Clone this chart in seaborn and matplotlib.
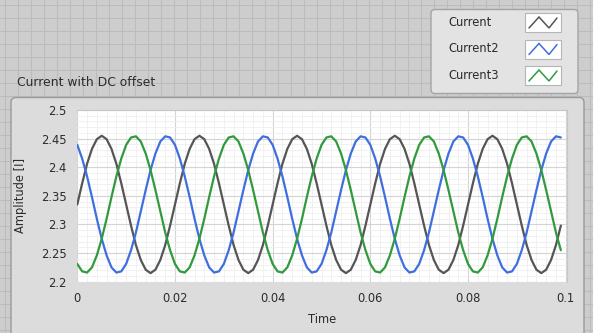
import numpy as np
import pandas as pd
import matplotlib
matplotlib.use("Agg")
import matplotlib.pyplot as plt
import seaborn as sns
from matplotlib.patches import FancyBboxPatch, Rectangle

# ---------------- data ----------------
series_names = ["Current", "Current2", "Current3"]
series_colors = ["#555555", "#3f6fdf", "#309a3c"]

sample_dt = 0.001
time_s = np.round(np.arange(100) * sample_dt, 3)

current = [
    2.335, 2.372, 2.406, 2.432, 2.449, 2.455, 2.449, 2.432, 2.406, 2.372,
    2.335, 2.298, 2.264, 2.238, 2.221, 2.215, 2.221, 2.238, 2.264, 2.298,
    2.335, 2.372, 2.406, 2.432, 2.449, 2.455, 2.449, 2.432, 2.406, 2.372,
    2.335, 2.298, 2.264, 2.238, 2.221, 2.215, 2.221, 2.238, 2.264, 2.298,
    2.335, 2.372, 2.406, 2.432, 2.449, 2.455, 2.449, 2.432, 2.406, 2.372,
    2.335, 2.298, 2.264, 2.238, 2.221, 2.215, 2.221, 2.238, 2.264, 2.298,
    2.335, 2.372, 2.406, 2.432, 2.449, 2.455, 2.449, 2.432, 2.406, 2.372,
    2.335, 2.298, 2.264, 2.238, 2.221, 2.215, 2.221, 2.238, 2.264, 2.298,
    2.335, 2.372, 2.406, 2.432, 2.449, 2.455, 2.449, 2.432, 2.406, 2.372,
    2.335, 2.298, 2.264, 2.238, 2.221, 2.215, 2.221, 2.238, 2.264, 2.298,
]
current2 = [
    2.439, 2.415, 2.384, 2.348, 2.310, 2.275, 2.246, 2.225, 2.216, 2.218,
    2.231, 2.255, 2.286, 2.323, 2.360, 2.395, 2.424, 2.445, 2.454, 2.452,
    2.439, 2.415, 2.384, 2.348, 2.310, 2.275, 2.246, 2.225, 2.216, 2.218,
    2.231, 2.255, 2.286, 2.323, 2.360, 2.395, 2.424, 2.445, 2.454, 2.452,
    2.439, 2.415, 2.384, 2.348, 2.310, 2.275, 2.246, 2.225, 2.216, 2.218,
    2.231, 2.255, 2.286, 2.323, 2.360, 2.395, 2.424, 2.445, 2.454, 2.452,
    2.439, 2.415, 2.384, 2.348, 2.310, 2.275, 2.246, 2.225, 2.216, 2.218,
    2.231, 2.255, 2.286, 2.323, 2.360, 2.395, 2.424, 2.445, 2.454, 2.452,
    2.439, 2.415, 2.384, 2.348, 2.310, 2.275, 2.246, 2.225, 2.216, 2.218,
    2.231, 2.255, 2.286, 2.323, 2.360, 2.395, 2.424, 2.445, 2.454, 2.452,
]
current3 = [
    2.231, 2.218, 2.216, 2.225, 2.246, 2.275, 2.310, 2.348, 2.384, 2.415,
    2.439, 2.452, 2.454, 2.445, 2.424, 2.395, 2.360, 2.323, 2.286, 2.255,
    2.231, 2.218, 2.216, 2.225, 2.246, 2.275, 2.310, 2.348, 2.384, 2.415,
    2.439, 2.452, 2.454, 2.445, 2.424, 2.395, 2.360, 2.323, 2.286, 2.255,
    2.231, 2.218, 2.216, 2.225, 2.246, 2.275, 2.310, 2.348, 2.384, 2.415,
    2.439, 2.452, 2.454, 2.445, 2.424, 2.395, 2.360, 2.323, 2.286, 2.255,
    2.231, 2.218, 2.216, 2.225, 2.246, 2.275, 2.310, 2.348, 2.384, 2.415,
    2.439, 2.452, 2.454, 2.445, 2.424, 2.395, 2.360, 2.323, 2.286, 2.255,
    2.231, 2.218, 2.216, 2.225, 2.246, 2.275, 2.310, 2.348, 2.384, 2.415,
    2.439, 2.452, 2.454, 2.445, 2.424, 2.395, 2.360, 2.323, 2.286, 2.255,
]

x_ticks = [0, 0.02, 0.04, 0.06, 0.08, 0.1]
x_tick_labels = ["0", "0.02", "0.04", "0.06", "0.08", "0.1"]
y_ticks = [2.2, 2.25, 2.3, 2.35, 2.4, 2.45, 2.5]
y_tick_labels = ["2.2", "2.25", "2.3", "2.35", "2.4", "2.45", "2.5"]

chart_title = "Current with DC offset"
x_label = "Time"
y_label = "Amplitude [I]"

df = pd.DataFrame({
    "Time": np.tile(time_s, 3),
    "Amplitude": current + current2 + current3,
    "Series": np.repeat(series_names, len(time_s)),
})

# ---------------- style ----------------
sns.set_theme(style="white")
plt.rcParams["font.family"] = ["DejaVu Sans"]
TXT = "#2b2b2b"

W, H = 593, 333
fig = plt.figure(figsize=(W / 100, H / 100), dpi=100)

# background (front-panel grid)
bg = fig.add_axes([0, 0, 1, 1], zorder=0)
bg.set_xlim(0, W)
bg.set_ylim(H, 0)
bg.set_facecolor("#cdcdcd")
bg.set_xticks(np.arange(5, W, 13))
bg.set_yticks(np.arange(5, H, 13))
bg.grid(True, color="#bcbcbc", lw=0.8)
bg.tick_params(length=0, labelbottom=False, labelleft=False)
for s in bg.spines.values():
    s.set_visible(False)

# graph panel
bg.add_patch(FancyBboxPatch((11, 97.5), 573, 240,
                            boxstyle="round,pad=0,rounding_size=5",
                            fc="#dcdcdc", ec="#9a9a9a", lw=1.0))
bg.text(17, 82.5, chart_title, fontsize=8.9, color=TXT, va="center", ha="left")

# legend box
bg.add_patch(FancyBboxPatch((431, 9.5), 147, 84,
                            boxstyle="round,pad=0,rounding_size=4",
                            fc="#e3e3e3", ec="#a4a4a4", lw=1.0))
for i, (name, col) in enumerate(zip(series_names, series_colors)):
    yc = 22.5 + 26.5 * i
    bg.text(448, yc, name, fontsize=8.3, color=TXT, va="center", ha="left")
    bx, by, bw, bh = 525, yc - 9.5, 36, 19
    bg.add_patch(Rectangle((bx, by), bw, bh, fc="white", ec="#b5b5b5", lw=0.8))
    zx = [bx + 4, bx + 14, bx + 24, bx + 32]
    zy = [by + 15, by + 4, by + 15, by + 5]
    bg.plot(zx, zy, color=col, lw=1.1, solid_joinstyle="miter")

# main plot area
x0, x1, ytop, ybot = 77.3, 566.7, 110.0, 281.7
ax = fig.add_axes([x0 / W, 1 - ybot / H, (x1 - x0) / W, (ybot - ytop) / H], zorder=2)
ax.set_facecolor("white")

sns.lineplot(data=df, x="Time", y="Amplitude", hue="Series",
             palette=dict(zip(series_names, series_colors)),
             legend=False, estimator=None, sort=False, lw=1.6, ax=ax)

ax.set_xlim(0, 0.1002)
ax.set_ylim(2.2, 2.5)
ax.set_xticks(x_ticks)
ax.set_xticklabels(x_tick_labels)
ax.set_yticks(y_ticks)
ax.set_yticklabels(y_tick_labels)
ax.set_xticks(np.arange(0, 0.1002, 0.002), minor=True)
ax.set_yticks(np.arange(2.2, 2.5001, 0.01), minor=True)
ax.grid(which="major", color="#d4d4d4", lw=0.8)
ax.grid(which="minor", color="#efefef", lw=0.6)
ax.set_axisbelow(True)

ax.tick_params(axis="y", which="major", direction="out", length=3.2, width=1.0,
               color="#4a4a4a", labelsize=8.3, labelcolor=TXT, pad=1.0)
ax.tick_params(axis="x", which="major", direction="out", length=4.3, width=1.0,
               color="#4a4a4a", labelsize=8.3, labelcolor=TXT, pad=1.0)
ax.tick_params(axis="both", which="minor", length=0)

ax.spines["left"].set_position(("outward", 3.5))
ax.spines["bottom"].set_position(("outward", 2.4))
ax.spines["left"].set_visible(False)
ax.spines["bottom"].set_visible(False)
for k in ("top", "right"):
    ax.spines[k].set_color("#c6c6c6")
    ax.spines[k].set_linewidth(0.8)

ax.set_xlabel(x_label, fontsize=8.3, color=TXT)
ax.set_ylabel(y_label, fontsize=8.3, color=TXT)
ax.xaxis.set_label_coords(0.5, -0.182)
ax.yaxis.set_label_coords(-0.103, 0.505)

fig.savefig("out.png", dpi=100)
